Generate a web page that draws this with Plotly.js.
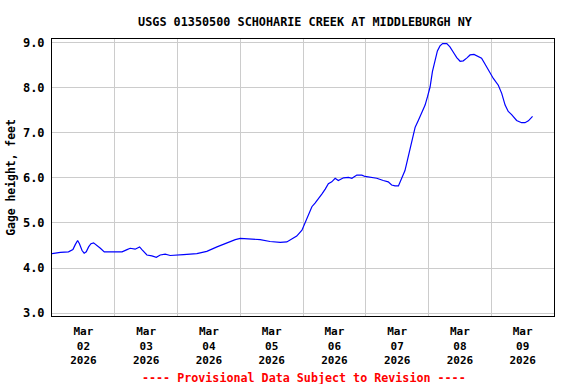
<!DOCTYPE html>
<html>
<head>
<meta charset="utf-8">
<script src="https://cdn.plot.ly/plotly-3.0.1.min.js"></script>
<style>html,body{margin:0;padding:0;background:#fff;}#chart{width:576px;height:384px;}</style>
</head>
<body>
<div id="chart"></div>
<script>
// Hours since 2026-03-02 00:00 (local gage time)
var hoursSinceStart = [0, 3.2, 6.3, 8.0, 8.9, 9.8, 10.5, 11.5, 12.3, 13.1, 14.0, 14.9, 15.9, 17.2, 18.5, 20.0,
  23.5, 26.8, 28.7, 29.9, 31.8, 33.5, 34.4, 36.3, 38.2, 39.9, 41.4, 43.3, 45.2, 48.4, 50.3, 55.4, 59.2,
  63.1, 66.9, 70.1, 72.0, 75.8, 79.6, 83.4, 87.3, 89.8, 91.7, 93.6, 95.6, 96.8, 98.1, 99.4, 100.6, 101.9,
  103.2, 104.5, 105.7, 107.0, 108.3, 109.5, 111.5, 113.4, 114.7, 116.6, 118.5, 119.7, 121.7, 124.2, 126.7,
  128.6, 129.9, 131.2, 132.5, 133.8, 135.0, 135.9, 136.9, 138.0, 138.9, 140.1, 141.4, 142.7, 143.6, 144.6,
  145.5, 146.5, 147.4, 148.4, 149.4, 151.0, 152.2, 153.5, 154.8, 156.1, 157.3, 158.6, 159.9, 161.4, 162.7,
  164.3, 165.6, 167.2, 168.8, 170.7, 172.0, 173.3, 174.5, 175.8, 177.7, 179.6, 180.9, 182.2, 183.8];
var gageHeight = [4.32, 4.35, 4.36, 4.41, 4.52, 4.61, 4.54, 4.39, 4.33, 4.36, 4.47, 4.54, 4.56, 4.51, 4.44, 4.36,
  4.36, 4.36, 4.41, 4.44, 4.42, 4.47, 4.41, 4.29, 4.27, 4.24, 4.29, 4.31, 4.28, 4.30, 4.30, 4.32, 4.37,
  4.47, 4.56, 4.63, 4.66, 4.64, 4.63, 4.59, 4.57, 4.58, 4.64, 4.71, 4.84, 5.00, 5.21, 5.36, 5.44, 5.53,
  5.64, 5.75, 5.87, 5.91, 5.99, 5.94, 6.00, 6.01, 5.99, 6.06, 6.06, 6.03, 6.01, 5.99, 5.94,
  5.91, 5.84, 5.82, 5.82, 5.98, 6.16, 6.38, 6.61, 6.87, 7.12, 7.27, 7.44, 7.61, 7.79, 8.01,
  8.35, 8.61, 8.81, 8.92, 8.97, 8.97, 8.90, 8.78, 8.66, 8.58, 8.59, 8.65, 8.72, 8.73, 8.69,
  8.65, 8.52, 8.36, 8.20, 8.05, 7.87, 7.61, 7.47, 7.40, 7.27, 7.22, 7.22, 7.26, 7.36];

var dayDates = ['2026-03-02', '2026-03-03', '2026-03-04', '2026-03-05', '2026-03-06', '2026-03-07', '2026-03-08', '2026-03-09'];
var dayMonths = ['Mar', 'Mar', 'Mar', 'Mar', 'Mar', 'Mar', 'Mar', 'Mar'];
var dayNumbers = ['02', '03', '04', '05', '06', '07', '08', '09'];
var dayYears = ['2026', '2026', '2026', '2026', '2026', '2026', '2026', '2026'];
var yTickVals = [3, 4, 5, 6, 7, 8, 9];
var yTickText = ['3.0', '4.0', '5.0', '6.0', '7.0', '8.0', '9.0'];

var titleText = 'USGS 01350500 SCHOHARIE CREEK AT MIDDLEBURGH NY';
var yTitleText = 'Gage height, feet';
var noteText = '---- Provisional Data Subject to Revision ----';

function pad(n) { return (n < 10 ? '0' : '') + n; }
function toDateStr(h) {
  var d = new Date(Date.UTC(2026, 2, 2) + h * 3600000);
  return d.getUTCFullYear() + '-' + pad(d.getUTCMonth() + 1) + '-' + pad(d.getUTCDate()) + ' ' +
    pad(d.getUTCHours()) + ':' + pad(d.getUTCMinutes()) + ':' + pad(d.getUTCSeconds());
}
var xTimes = hoursSinceStart.map(toDateStr);
var labelVals = dayDates.map(function (d) { return d + ' 12:00'; });
var gridVals = dayDates.map(function (d) { return d + ' 00:00'; }).concat(['2026-03-10 00:00']);
var labelText = dayDates.map(function (d, i) { return dayMonths[i] + '<br>' + dayNumbers[i] + '<br>' + dayYears[i]; });

var FONT = 'DejaVu Sans Mono, monospace';

var trace = {
  x: xTimes, y: gageHeight, type: 'scatter', mode: 'lines',
  line: { color: '#0000ff', width: 1.2, shape: 'linear' },
  hoverinfo: 'skip'
};

var layout = {
  width: 576, height: 384,
  margin: { l: 52, r: 22, t: 39, b: 68, pad: 0 },
  paper_bgcolor: '#ffffff', plot_bgcolor: '#ffffff',
  showlegend: false,
  title: {
    text: '<b>' + titleText + '</b>',
    font: { family: FONT, size: 11.8, color: '#000000' },
    x: 0.504, xanchor: 'center', xref: 'paper',
    y: 1 - 22 / 384, yanchor: 'middle', yref: 'container'
  },
  xaxis: {
    type: 'date',
    range: ['2026-03-02 00:00', '2026-03-10 00:00'],
    tickmode: 'array', tickvals: labelVals, ticktext: labelText.map(function (t) { return '<b>' + t + '</b>'; }),
    ticks: '', showgrid: false, zeroline: false,
    tickfont: { family: FONT, size: 11, color: '#000000' },
    ticklabelstandoff: 5,
    showline: true, linecolor: '#000000', linewidth: 1, mirror: true,
    minor: { tickmode: 'array', tickvals: gridVals, showgrid: true, gridcolor: '#cccccc', gridwidth: 1, ticks: '' },
    fixedrange: true
  },
  yaxis: {
    range: [2.94, 9.073],
    tickmode: 'array', tickvals: yTickVals, ticktext: yTickText.map(function (t) { return '<b>' + t + '</b>'; }),
    ticks: '', showgrid: true, gridcolor: '#cccccc', gridwidth: 1, zeroline: false,
    tickfont: { family: FONT, size: 12, color: '#000000' },
    ticklabelstandoff: 4,
    showline: true, linecolor: '#000000', linewidth: 1, mirror: true,
    title: { text: '<b>' + yTitleText + '</b>', font: { family: FONT, size: 11.4, color: '#000000' }, standoff: 4 },
    fixedrange: true
  },
  annotations: [{
    text: '<b>' + noteText + '</b>',
    xref: 'paper', yref: 'paper', x: 0.502, y: -(377.9 - 316) / 277,
    xanchor: 'center', yanchor: 'middle', showarrow: false,
    font: { family: FONT, size: 11.7, color: '#ff0000' }
  }]
};

Plotly.newPlot('chart', [trace], layout, { staticPlot: true, displayModeBar: false });
</script>
</body>
</html>
